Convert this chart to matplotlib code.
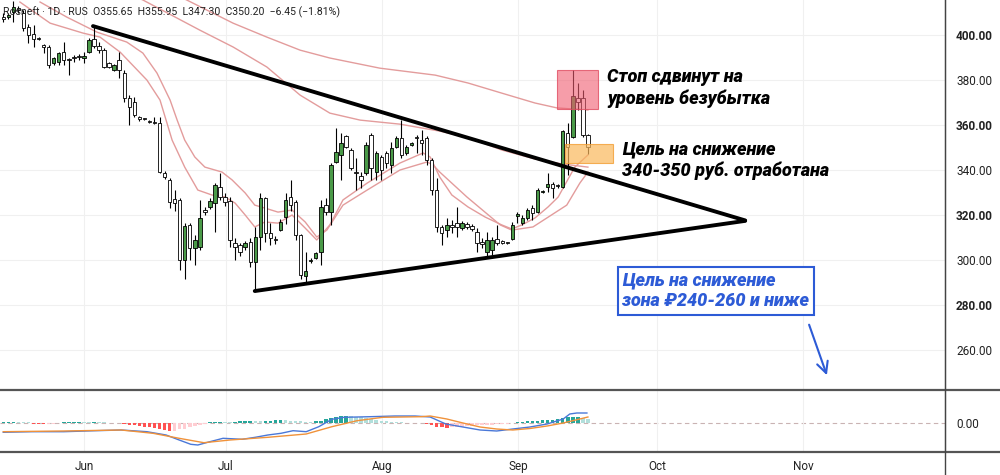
import numpy as np
import matplotlib
matplotlib.use("Agg")
import matplotlib.pyplot as plt
from matplotlib.patches import Rectangle
from matplotlib.lines import Line2D

plt.rcParams['font.family'] = ['Roboto', 'DejaVu Sans']

# ===============================
# Data (x = bar index)
# ===============================
opens = [408, 408, 410.2, 412, 410, 403.5, 400.4, 398.5, 395.5, 394.7,
         387.6, 388, 392.4, 389.2, 390.2, 390.5, 390, 392.4, 398.2, 395,
         393.3, 387.6, 384.4, 389, 383.1, 372, 370.2, 363.6, 362.9, 361.6,
         361.3, 361, 338.7, 335.6, 327, 326.7, 300, 315.6, 305.3, 305.8,
         322.2, 323.5, 325.3, 332.4, 328, 326.2, 307.6, 306.7, 305.8, 308,
         299.1, 310.2, 327.5, 312, 309, 313.3, 319.1, 328, 325.8, 311.1,
         292.9, 299.6, 301, 303.6, 324.4, 321.3, 343.6, 346.7, 355.1, 348.9,
         338.9, 337.3, 338.7, 355.6, 339.1, 345.8, 347.6, 342.2, 350.2, 354.2,
         347.6, 351.1, 354.7, 353.3, 354.2, 344.4, 331.1, 314.7, 313.3, 315.6,
         316.4, 314.2, 316, 315.1, 312.4, 308, 303.6, 304.4, 309.3, 308.4,
         307.6, 309.3, 319.6, 316.4, 318.7, 323.1, 321.3, 330.2, 332.4, 333.8,
         333.3, 332.4, 356.4, 354.7, 372, 372, 355.65]
highs = [410, 410, 415, 413, 411, 405, 404.4, 399, 396, 395.5,
         390.2, 392.4, 396.9, 390, 391, 391.5, 392.4, 398.7, 404.4, 396.9,
         394.2, 388, 387, 392.4, 384.4, 373.3, 372.4, 364, 363.2, 362.4,
         363.5, 363.6, 339.5, 336.4, 331, 327.5, 316.4, 316.4, 311, 326.7,
         323.5, 327.5, 334.2, 338.7, 330, 328, 309.8, 307.5, 308.4, 309.8,
         314.7, 329.8, 328, 316.4, 310.7, 318.2, 330, 335.6, 326.7, 311.5,
         303.6, 301, 303.6, 326.7, 327.5, 343.1, 358.7, 356.4, 355.6, 349.8,
         345.3, 339.1, 352.4, 356.4, 348.4, 346.7, 348.4, 352.4, 355.1, 362.2,
         351.1, 352.4, 355.6, 357.8, 355.1, 345.3, 336.4, 315.6, 318.7, 317.8,
         323.5, 317.3, 316.9, 316, 314.2, 309.8, 312.4, 310.2, 315.6, 309,
         308, 316.9, 321.3, 320, 323.1, 324.4, 332, 331, 338.7, 334.7,
         334, 357.8, 361, 384.4, 378.7, 375.6, 355.95]
lows = [406, 407, 405.8, 410, 402, 396.4, 394.7, 397.8, 392, 385.3,
        386.7, 386.7, 386.7, 382.2, 388, 389, 387.6, 392, 394.2, 392,
        385.3, 385.3, 384, 380.9, 370.2, 360, 363.6, 362, 362.4, 360.9,
        360.4, 338.7, 336, 323, 322, 295.6, 291.6, 300, 297.8, 304.4,
        320, 322.7, 312.4, 326.7, 324, 305.8, 300, 302, 304.4, 296.9,
        286.7, 304.4, 308, 306.7, 307, 312.9, 316, 322, 308.9, 291.6,
        290.2, 298.7, 300.5, 297.8, 320, 315.6, 343.1, 335.6, 349.8, 340,
        331.1, 332, 337.8, 335.6, 335.6, 335.6, 341, 338.7, 349.8, 345.3,
        346.7, 350.7, 347.6, 346.7, 342.2, 328.9, 312.4, 306.7, 310.2, 312,
        310.2, 313.3, 313.8, 313, 303.6, 305.3, 301.3, 302.2, 306.7, 307,
        307.1, 308.9, 316.4, 315.6, 317.8, 317.8, 320.9, 329.8, 330.2, 327.6,
        332, 332, 337.8, 354.2, 366.7, 354.7, 347.30]
closes = [407, 409, 412.4, 411, 403, 400, 398.2, 398.2, 394.5, 386.7,
          389.8, 392, 389, 388.9, 389.8, 390.2, 390.4, 397.8, 395, 393.3,
          385.8, 385.8, 386.7, 384.4, 372, 368, 364.4, 362.7, 362.7, 361.3,
          361, 339, 336.9, 325.8, 325.5, 300, 315.1, 305.3, 308.9, 318.7,
          321.3, 326.2, 333.3, 328, 325.8, 308.9, 305.8, 303.6, 307.6, 299.1,
          310.2, 327.5, 312, 309.8, 308.9, 316.9, 326.7, 324.4, 311.1, 293.3,
          295.1, 300, 303.1, 323.5, 321.3, 342.2, 348, 352, 350.2, 340.9,
          338.7, 335.6, 351.1, 340.9, 347.6, 340, 343.1, 349.8, 354.2, 346.7,
          350.2, 352, 354.2, 352, 344.4, 331.1, 314.7, 312, 315.6, 314.7,
          314.7, 316.4, 314.7, 313.8, 307.6, 307.1, 308.9, 308.9, 307.6, 307.6,
          307.5, 315.6, 320.4, 318.7, 322.2, 320.9, 331.1, 330.5, 333.8, 332,
          332.8, 357.3, 350.2, 372.9, 370.2, 355.6, 350.20]

# moving averages (bar index, price)
ma_fast_x = [3.3, 9.3, 15.8, 19.2, 23.2, 28.5, 31.1, 33.5, 36.0, 38.6, 41.4, 44.0, 46.0, 48.0,
             49.9, 51.9, 54.5, 57.3, 59.9, 62.2, 64.8, 67.4, 72.2, 78.7, 83.3, 84.7, 86.6,
             89.0, 92.2, 95.6, 98.9, 100.9, 102.9, 105.5, 108.1, 110.1, 111.4, 113.4, 116.0]
ma_fast_y = [414.7, 405.3, 400.9, 399.1, 392.4, 380, 371.1, 353.3, 341.3, 331.1, 328.9, 328,
             325.3, 320, 314.7, 316.9, 316.4, 320, 314.2, 308.9, 315.6, 326.7, 334.2, 343.1,
             347.6, 345.8, 336.9, 328.9, 323.6, 319.1, 315.6, 313.8, 315.6, 318.7, 323.6,
             328, 333.3, 341.3, 346.7]
ma_mid_x = [7.3, 12.6, 18.6, 24.5, 27.7, 30.5, 33.1, 34.5, 36.0, 38.0, 40.0, 43.4, 45.4, 48.0,
            49.9, 51.9, 54.5, 57.3, 59.9, 62.2, 64.2, 67.4, 72.2, 78.7, 84.1, 85.3, 86.6,
            92.0, 98.6, 100.9, 105.1, 111.8, 114.4, 116.0]
ma_mid_y = [414.7, 408, 401.3, 396.9, 392, 383.1, 371.1, 362.2, 353.3, 345.8, 341.3, 339.1,
            335.6, 329.8, 324.4, 323.1, 321.3, 322.2, 316.9, 310.2, 313.3, 324.4, 331.1, 340,
            343.6, 342.2, 339.1, 328, 315.6, 313.3, 314.7, 324.4, 334.2, 339.1]
ma_slow_x = [24.1, 27.7, 39.0, 45.6, 52.3, 58.9, 64.8, 70.8, 78.7, 86.6, 92.6, 98.9, 105.5,
             110.9, 116.0]
ma_slow_y = [419.1, 415.6, 402.2, 394.7, 385.8, 373.3, 365.3, 362.2, 360.4, 357.3, 354.2,
             348.9, 344.9, 342.7, 341.3]
ma_long_x = [33.1, 36.4, 45.6, 52.3, 58.9, 64.8, 74.7, 85.7, 92.2, 98.9, 105.5, 109.9, 116.0]
ma_long_y = [419.1, 415.6, 405.3, 399.1, 393.3, 389.8, 385.3, 382.2, 378.7, 374.2, 369.8,
             367.6, 366.7]

# MACD panel
macd_x = [0, 5.7, 12.0, 18.4, 23.4, 28.5, 32.3, 34.9, 37.2, 38.6, 41.0, 43.6, 47.4, 50.0,
          52.5, 55.1, 57.5, 60.1, 62.6, 65.2, 67.6, 72.8, 77.7, 81.7, 84.7, 87.8, 91.2,
          94.6, 97.9, 101.1, 104.5, 107.9, 111.1, 112.4, 113.8, 115.8]
macd_y = [-4.65, -4.35, -4.35, -3.85, -3.5, -4.35, -6, -8.5, -10.65, -11, -9.35, -7.65,
          -8.15, -7.15, -6, -5.15, -3.85, -4.35, -1.85, 1.85, 2.85, 3.15, 3.5, 3.5, 3,
          -0.5, -2, -3.5, -4, -3, -2, -0.5, 2, 4.5, 5, 5]
signal_x = [0, 12.0, 23.4, 29.7, 34.9, 39.8, 45.0, 52.5, 60.1, 65.2, 70.2, 75.3, 82.9, 84.7,
            88.0, 91.2, 94.6, 97.9, 101.1, 104.5, 107.9, 111.1, 114.4, 116.0]
signal_y = [-4.35, -4, -3.5, -5.15, -7.65, -9.85, -8.5, -7.15, -5.5, -1.85, 1.15, 2.85,
            3.15, 3.5, 2, 0, -2, -3, -3.5, -2.75, -1.5, 0, 2, 3]
hist = [0.5, 0.6, 0.6, 0.5, 0.4, 0.3,
        -0.3, -0.5, -0.6, -0.5, -0.4, -0.2,
        0.3, 0.5, 0.6, 0.7, 0.6, 0.5, 0.6, 0.5,
        0.3, 0.2, 0.1, -0.2,
        -0.6, -0.9, -1.2, -1.5, -1.8, -2.0,
        -2.5, -3.0, -3.5, -4.0, -3.8, -3.2, -2.8,
        -2.2, -1.6, -1.0, -0.5,
        0.3, 0.5, 0.6, 0.5, 0.4,
        0.5, 0.8, 1.0, 1.2, 1.0, 0.8, 0.9, 1.1,
        1.3, 1.5, 1.4, 1.2, 1.0, 0.8,
        0.6, 0.5, 0.8, 1.2,
        1.8, 2.4, 3.0, 3.4, 3.6, 3.5, 3.2, 2.8, 2.4,
        2.0, 1.6, 1.2, 0.8,
        0.5, 0.4, 0.3, 0.2, 0.1, 0.1, -0.2, -0.5,
        -1.2, -1.8, -2.2, -2.4, -2.2,
        -2.0, -1.8, -1.6, -1.4, -1.2, -1.0, -0.9, -0.8, -0.6, -0.5, -0.3, -0.2,
        0.3, 0.6, 0.8, 1.0, 1.2, 1.4, 1.5, 1.6, 1.8,
        2.4, 2.8, 3.0, 3.2,
        2.6, 2.2]

# trendlines (bar index, price)
tri_upper = ([17.8, 147.2], [404.0, 317.6])
tri_lower = ([49.9, 147.2], [286.2, 317.4])

# zones: (x0, x1, y0, y1)
stop_zone = (109.9, 118.0, 367.1, 384.4)
target_zone = (111.4, 121.0, 343.1, 351.6)

month_pos = [16.0, 44.2, 75.1, 102.1, 129.7, 158.7]
month_labels = ["Jun", "Jul", "Aug", "Sep", "Oct", "Nov"]
price_ticks = [260, 280, 300, 320, 340, 360, 380, 400]

XLIM = (-0.65, 186.85)
YLIM = (242.2, 415.6)

# ===============================
# Figure
# ===============================
fig = plt.figure(figsize=(10, 4.75), dpi=100)
ax = fig.add_axes([0, 85 / 475, 0.945, 390 / 475])
ax2 = fig.add_axes([0, 23 / 475, 0.945, 62 / 475])

GREEN = "#4a9a48"
PINK = "#e39c9c"
BLUE = "#2d5bd6"

idx = np.arange(len(opens))
o = np.array(opens); h = np.array(highs); l = np.array(lows); c = np.array(closes)
up = c >= o

# moving averages
ax.plot(ma_long_x, ma_long_y, color=PINK, lw=1.0, zorder=2)
ax.plot(ma_slow_x, ma_slow_y, color=PINK, lw=1.0, zorder=2)
ax.plot(ma_mid_x, ma_mid_y, color=PINK, lw=1.0, zorder=2)
ax.plot(ma_fast_x, ma_fast_y, color=PINK, lw=1.0, zorder=2)

# candles
ax.vlines(idx, l, h, color="black", lw=0.8, zorder=3)
body = np.maximum(np.abs(c - o), 0.5)
ax.bar(idx, body, bottom=np.minimum(o, c), width=0.68,
       color=np.where(up, GREEN, "white"), edgecolor="black", lw=0.6, zorder=4)

# triangle
ax.plot(*tri_upper, color="black", lw=2.8, solid_capstyle="round", zorder=5)
ax.plot(*tri_lower, color="black", lw=2.8, solid_capstyle="round", zorder=5)

# zones
x0, x1, y0, y1 = stop_zone
ax.add_patch(Rectangle((x0, y0), x1 - x0, y1 - y0, facecolor=(0.94, 0.36, 0.44, 0.6),
                       edgecolor=(0.88, 0.3, 0.38, 0.8), lw=0.8, zorder=6))
x0, x1, y0, y1 = target_zone
ax.add_patch(Rectangle((x0, y0), x1 - x0, y1 - y0, facecolor=(0.98, 0.72, 0.36, 0.7),
                       edgecolor=(0.95, 0.62, 0.2, 0.8), lw=0.8, zorder=6))

note = dict(fontsize=13, fontweight="heavy", fontstyle="italic", zorder=7, va="center")
ax.text(119.8, 376.4, "Стоп сдвинут на\nуровень безубытка", color="black", **note)
ax.text(122.8, 344.4, "Цель на снижение\n340-350 руб. отработана", color="black", **note)
ax.text(122.8, 286.2, "Цель на снижение\nзона ₽240-260 и ниже", color=BLUE,
        bbox=dict(boxstyle="square,pad=0.25", fc="white", ec=BLUE, lw=1.5), **note)
ax.annotate("", xy=(163.6, 247.6), xytext=(159.7, 272.4),
            arrowprops=dict(arrowstyle="->", color=BLUE, lw=1.5, mutation_scale=20), zorder=7)

ax.text(0.003, 0.969,
        "Rosneft · 1D · RUS  O355.65  H355.95  L347.30  C350.20  −6.45 (−1.81%)",
        transform=ax.transAxes, fontsize=7.6, color="#222222", va="center", zorder=8)

ax.set_xlim(*XLIM)
ax.set_ylim(*YLIM)
ax.set_xticks(month_pos)
ax.set_xticklabels([])
ax.set_yticks(price_ticks)
ax.set_yticklabels([f"{v:.2f}" for v in price_ticks])
ax.yaxis.tick_right()
ax.tick_params(axis="y", length=0, pad=8, labelsize=8.5, labelcolor="#222222")
ax.tick_params(axis="x", length=0)
for lab, v in zip(ax.get_yticklabels(), price_ticks):
    if v in (400, 360, 320, 280):
        lab.set_fontweight("bold")
ax.grid(color="#f0f0f0", lw=0.8, zorder=0)
for s in ("left", "top", "bottom"):
    ax.spines[s].set_visible(False)
ax.spines["right"].set_color("#444444")

# MACD
hcol = []
for i, v in enumerate(hist):
    prev = hist[i - 1] if i > 0 else v
    if v >= 0:
        hcol.append("#26a69a" if v >= prev else "#b2dfdb")
    else:
        hcol.append("#ff5252" if v <= prev else "#ffcdd2")
ax2.bar(np.arange(len(hist)), hist, width=0.7, color=hcol, zorder=2)
ax2.plot(macd_x, macd_y, color="#4a78d8", lw=1.0, zorder=3)
ax2.plot(signal_x, signal_y, color="#f0923a", lw=1.0, zorder=3)
ax2.axhline(0, color="#c9b3b3", lw=0.8, ls=(0, (4, 3)), zorder=1)
ax2.set_xlim(*XLIM)
ax2.set_ylim(-14.5, 16.5)
ax2.set_xticks(month_pos)
ax2.set_xticklabels(month_labels)
ax2.set_yticks([0])
ax2.set_yticklabels(["0.00"])
ax2.yaxis.tick_right()
ax2.tick_params(axis="y", length=0, pad=8, labelsize=8.5, labelcolor="#222222")
ax2.tick_params(axis="x", length=0, pad=6, labelsize=8.5, labelcolor="#222222")
ax2.grid(axis="x", color="#f0f0f0", lw=0.8, zorder=0)
for s in ("left", "top", "bottom"):
    ax2.spines[s].set_visible(False)
ax2.spines["right"].set_color("#444444")

# pane separators
for yy in (85 / 475, 23 / 475):
    fig.add_artist(Line2D([0, 1], [yy, yy], color="#555555", lw=1.6, transform=fig.transFigure))
fig.add_artist(Line2D([0.945, 0.945], [0, 1], color="#444444", lw=1.0, transform=fig.transFigure))

fig.savefig("out.png", dpi=100, facecolor="white")
